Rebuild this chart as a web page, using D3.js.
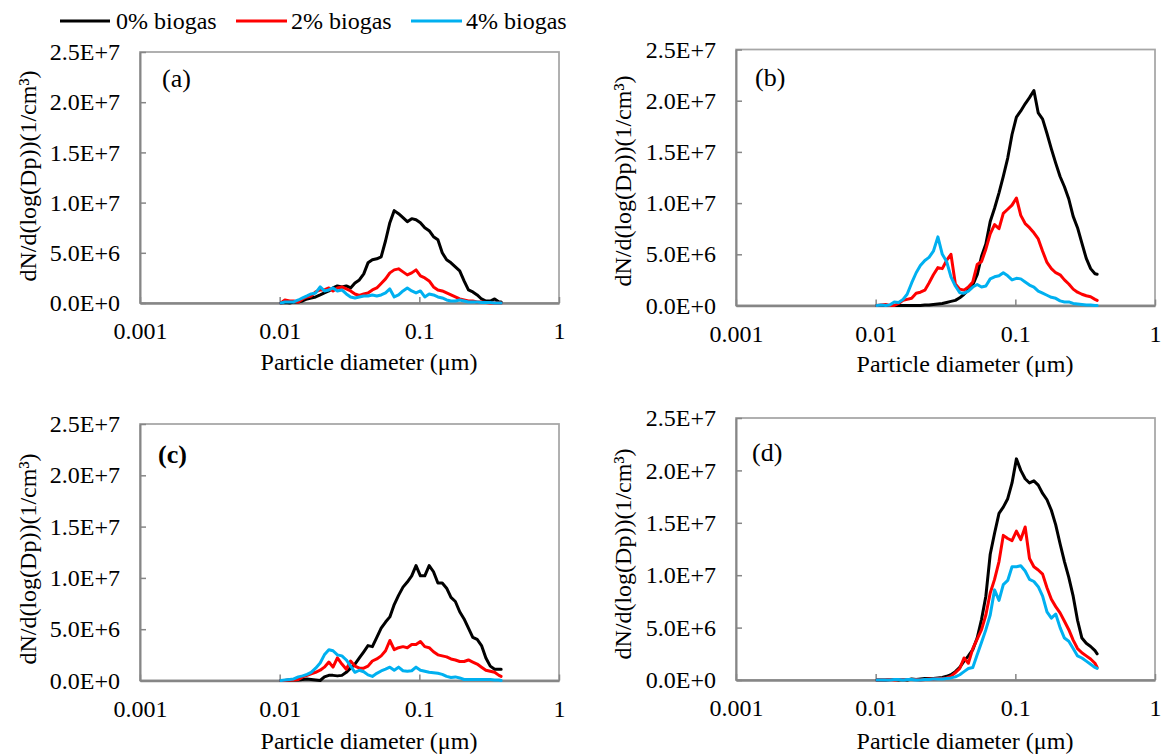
<!DOCTYPE html>
<html><head><meta charset="utf-8">
<script src="https://cdn.jsdelivr.net/npm/d3@7"></script>
<style>
html,body{margin:0;padding:0;background:#fff;}
svg text{font-family:"Liberation Serif","Times New Roman",serif;fill:#000;}
</style></head><body>
<svg id="chart" width="1162" height="756"></svg>
<script>
// ---- data ----
const diameters = [0.0102,0.0109,0.0118,0.0126,0.0136,0.0146,0.0157,0.0168,0.0181,0.0195,
  0.0209,0.0225,0.0241,0.0259,0.0279,0.0300,0.0322,0.0346,0.0372,0.0400,
  0.0429,0.0461,0.0496,0.0533,0.0573,0.0615,0.0661,0.0710,0.0764,0.0820,
  0.0882,0.0947,0.1018,0.1094,0.1176,0.1263,0.1358,0.1459,0.1568,0.1685,
  0.1811,0.1946,0.2091,0.2247,0.2414,0.2595,0.2788,0.2996,0.3220,0.3460,
  0.3718,0.3854];
const xTickValues = [0.001, 0.01, 0.1, 1];
const xTickLabels = ["0.001", "0.01", "0.1", "1"];
const yTickValues = [0, 5e6, 1e7, 1.5e7, 2e7, 2.5e7];
const yTickLabels = ["0.0E+0", "5.0E+6", "1.0E+7", "1.5E+7", "2.0E+7", "2.5E+7"];
const seriesNames = ["0% biogas", "2% biogas", "4% biogas"];
const panelLabels = ["(a)", "(b)", "(c)", "(d)"];
const xTitle = "Particle diameter (\u03bcm)";
const yTitle = "dN/d(log(Dp))(1/cm\u00b3)";
const unit = 1e6; // series values below are in units of 1E+6 per cm3

// panel (a)
const a0 = [0,0.05,0,0.1,0.1,0.2,0.4,0.5,0.6,0.8,
  1.0,1.2,1.5,1.7,1.6,1.7,1.5,2.0,2.3,2.9,
  4.0,4.3,4.4,4.6,6.2,8.0,9.2,8.9,8.5,8.1,
  8.4,8.3,8.0,7.5,7.2,6.6,6.3,5.0,4.3,4.0,
  3.6,3.2,2.2,1.3,1.1,0.8,0.4,0.2,0.2,0.4,
  0.1,0.1];
const a2 = [0,0.3,0.2,0.2,0.1,0.4,0.6,0.7,1.1,1.3,
  1.3,1.5,1.2,1.5,1.6,1.4,1.2,0.9,0.75,0.9,
  1.0,1.3,1.5,1.95,2.4,3.0,3.3,3.4,3.1,2.8,
  3.0,3.3,2.7,2.5,2.2,1.6,1.3,1.2,1.0,0.8,
  0.6,0.4,0.3,0.2,0.2,0.1,0.1,0.05,0,0,
  0,0];
const a4 = [0,0.1,0.1,0.1,0.3,0.5,0.7,0.9,1.0,1.6,
  1.2,1.3,1.5,1.2,1.3,0.9,0.6,0.5,0.6,0.7,
  0.7,0.8,0.7,0.8,1.0,1.4,0.6,0.8,1.2,1.5,
  1.2,1.0,1.2,0.6,0.9,0.8,0.6,0.5,0.3,0.2,
  0.2,0.3,0.2,0.1,0.1,0.1,0.05,0.05,0.05,0,
  0,0];
// panel (b)
const b0 = [0,0,0,0,0,0,0,0,0,0,
  0,0.05,0.05,0.1,0.15,0.2,0.3,0.4,0.5,0.75,
  1.1,1.5,2.0,3.0,4.8,6.0,8.2,9.5,11.0,12.6,
  14.4,16.7,18.4,19.0,19.7,20.3,21.0,18.8,18.2,16.8,
  15.3,13.9,12.6,11.6,10.4,8.7,7.6,6.1,4.6,3.6,
  3.1,3.05];
const b2 = [0,0.05,0.1,0,0,0.2,0.5,0.6,0.7,1.2,
  1.3,1.5,2.2,3.0,3.7,3.6,4.4,5.0,2.1,1.6,
  1.5,1.8,2.3,4.0,4.3,5.5,7.0,7.9,7.5,9.0,
  9.4,9.8,10.5,8.8,8.0,7.6,7.1,6.5,5.3,4.2,
  3.6,3.2,3.0,2.5,2.1,1.6,1.3,1.1,0.95,0.85,
  0.6,0.5];
const b4 = [0,0.05,0,0.05,0.35,0.3,0.6,1.1,2.2,3.2,
  3.9,4.4,4.7,5.3,6.7,5.0,4.3,2.8,1.9,1.25,
  1.2,1.4,1.8,2.05,1.8,1.9,2.6,2.8,2.9,3.2,
  2.9,2.5,2.65,2.6,2.3,2.0,1.8,1.4,1.2,1.0,
  0.8,0.7,0.45,0.35,0.35,0.2,0.15,0.1,0.05,0.05,
  0,0];
// panel (c)
const c0 = [0,0,0.05,0.05,0.05,0.1,0.15,0.1,0.05,0,
  0.35,0.5,0.5,0.45,0.5,0.8,1.2,1.6,2.2,2.8,
  3.4,3.3,4.2,5.1,5.7,6.2,7.4,8.3,9.1,9.6,
  10.2,11.2,10.2,10.2,11.2,10.6,9.5,9.5,9.0,8.1,
  7.7,6.7,6.0,5.1,4.2,4.0,3.4,2.2,1.4,1.1,
  1.1,1.1];
const c2 = [0,0,0.05,0.05,0.1,0.35,0.5,0.65,0.8,1.0,
  1.3,1.8,1.3,2.2,1.6,1.1,1.9,1.4,1.2,1.2,
  1.4,1.9,2.1,2.4,2.9,3.9,3.0,3.2,3.3,3.2,
  3.5,3.5,3.8,3.3,3.2,2.8,2.5,2.4,2.3,2.1,
  2.0,1.85,1.85,2.0,1.8,1.6,1.3,1.0,0.9,0.8,
  0.5,0.4];
const c4 = [0,0.05,0.1,0.15,0.35,0.45,0.6,0.8,1.2,1.7,
  2.5,3.0,2.9,2.5,2.4,2.0,1.4,0.8,1.0,0.85,
  0.55,0.4,0.7,0.93,1.1,1.3,1.0,1.3,0.95,0.9,
  0.95,1.3,1.0,0.9,0.8,0.75,0.7,0.6,0.4,0.3,
  0.35,0.25,0.1,0.1,0.1,0.1,0.1,0.1,0.1,0.05,
  0.05,0];
// panel (d)
const d0 = [0,0,0,0.05,0.05,0,0.05,0,0.1,0.05,
  0.1,0.15,0.15,0.15,0.2,0.25,0.35,0.5,0.8,1.2,
  1.8,2.3,2.9,4.0,5.8,8.0,12.0,14.0,15.9,16.5,
  17.3,18.8,21.1,20.0,19.2,18.8,19.0,18.6,17.8,17.2,
  16.2,14.8,13.0,11.3,9.8,8.0,5.7,4.0,3.5,3.2,
  2.8,2.5];
const d2 = [0,0,0.02,0.05,0,0.05,0.05,0.05,0.05,0.05,
  0,0.05,0.1,0.1,0.15,0.15,0.2,0.35,0.7,1.1,
  2.1,1.6,3.0,3.9,4.8,6.2,8.3,9.6,11.3,13.8,
  13.5,13.3,14.2,13.4,14.6,11.6,10.8,10.5,10.1,8.8,
  7.7,7.0,6.4,5.6,4.8,3.8,3.0,2.6,2.3,2.0,
  1.6,1.2];
const d4 = [0,0,0,0,0.05,0.05,0,0.05,0.05,0,
  0,0.05,0.05,0.1,0.1,0.1,0.15,0.2,0.3,0.5,
  0.8,1.1,1.2,2.4,3.6,4.8,6.2,8.6,7.6,9.1,
  9.5,10.8,10.8,10.9,10.4,9.6,9.4,8.9,8.0,6.5,
  5.9,6.3,5.0,4.0,3.7,3.0,2.3,2.1,1.8,1.5,
  1.2,1.1];

const panelSeries = [[a0,a2,a4],[b0,b2,b4],[c0,c2,c4],[d0,d2,d4]];

// ---- layout / style ----
const colors = ["#000000", "#ff0000", "#00b0f0"];
const FONT = 24;
const layout = [
  {left:140, right:559, top:52,  bottom:303,   titleX:369, titleY:370, labelX:162, labelY:87,  yTitleX:36,  yTitleY:176, bold:false},
  {left:736, right:1155, top:49.5, bottom:305.5, titleX:965, titleY:372, labelX:755, labelY:86,  yTitleX:631, yTitleY:181, bold:false},
  {left:140, right:559, top:424, bottom:680.5, titleX:369, titleY:749, labelX:158, labelY:463, yTitleX:36,  yTitleY:559, bold:true},
  {left:736, right:1155, top:418, bottom:680,   titleX:965, titleY:749, labelX:752, labelY:461, yTitleX:631, yTitleY:554, bold:false}
];

const svg = d3.select("#chart");

layout.forEach((L, p) => {
  const x = d3.scaleLog().domain([0.001, 1]).range([L.left, L.right]);
  const y = d3.scaleLinear().domain([0, 2.5e7]).range([L.bottom, L.top]);
  const g = svg.append("g");

  // plot frame
  g.append("rect")
    .attr("x", L.left).attr("y", L.top)
    .attr("width", L.right - L.left).attr("height", L.bottom - L.top)
    .attr("fill", "none").attr("stroke", "#a6a6a6").attr("stroke-width", 1.75);

  // x axis
  const xa = g.append("g").attr("transform", `translate(0,${L.bottom})`)
    .call(d3.axisBottom(x).tickValues(xTickValues)
      .tickFormat((d, i) => xTickLabels[i]).tickSizeInner(-6).tickSizeOuter(0).tickPadding(19));
  xa.select(".domain").attr("stroke", "#868686").attr("stroke-width", 2.5);
  xa.selectAll(".tick line").attr("stroke", "#868686").attr("stroke-width", 1.5);
  xa.selectAll(".tick text").attr("font-size", FONT).attr("font-family", "Liberation Serif").attr("fill", "#000");

  // y axis
  const ya = g.append("g").attr("transform", `translate(${L.left},0)`)
    .call(d3.axisLeft(y).tickValues(yTickValues)
      .tickFormat((d, i) => yTickLabels[i]).tickSizeInner(-6).tickSizeOuter(0).tickPadding(20));
  ya.select(".domain").attr("stroke", "#868686").attr("stroke-width", 2);
  ya.selectAll(".tick line").attr("stroke", "#868686").attr("stroke-width", 1.5);
  ya.selectAll(".tick text").attr("font-size", FONT).attr("font-family", "Liberation Serif").attr("fill", "#000");

  // series
  const line = d3.line()
    .x((d, i) => x(diameters[i]))
    .y(d => y(d * unit));
  panelSeries[p].forEach((vals, s) => {
    g.append("path").datum(vals)
      .attr("d", line)
      .attr("fill", "none")
      .attr("stroke", colors[s])
      .attr("stroke-width", 3)
      .attr("stroke-linejoin", "round")
      .attr("stroke-linecap", "round");
  });

  // panel label
  g.append("text").attr("x", L.labelX).attr("y", L.labelY)
    .attr("font-size", 26).attr("font-weight", L.bold ? "bold" : "normal")
    .text(panelLabels[p]);

  // axis titles
  g.append("text").attr("x", L.titleX).attr("y", L.titleY)
    .attr("text-anchor", "middle").attr("font-size", FONT).text(xTitle);
  g.append("text")
    .attr("transform", `translate(${L.yTitleX},${L.yTitleY}) rotate(-90)`)
    .attr("text-anchor", "middle").attr("font-size", FONT).text(yTitle);
});

// legend
const legendPos = [{x1:60, x2:110, tx:116}, {x1:236, x2:287, tx:291}, {x1:411, x2:462, tx:466}];
seriesNames.forEach((name, s) => {
  const P = legendPos[s];
  svg.append("line").attr("x1", P.x1).attr("x2", P.x2).attr("y1", 21).attr("y2", 21)
    .attr("stroke", colors[s]).attr("stroke-width", 3);
  svg.append("text").attr("x", P.tx).attr("y", 29).attr("font-size", FONT).text(name);
});
</script>
</body></html>
